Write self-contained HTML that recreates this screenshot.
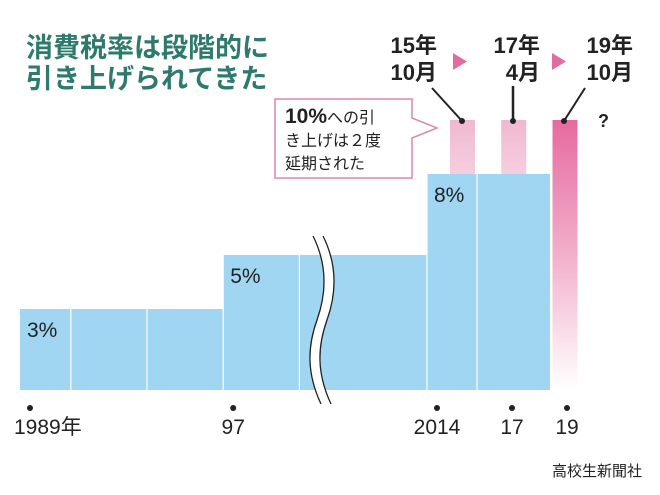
<!DOCTYPE html>
<html><head><meta charset="utf-8"><style>
body{margin:0;background:#fff;}
svg{display:block;font-family:"Liberation Sans","Noto Sans CJK JP",sans-serif;}
</style></head><body>
<svg width="660" height="495" viewBox="0 0 660 495">
<defs>
<linearGradient id="pk1" x1="0" y1="0" x2="0" y2="1"><stop offset="0" stop-color="#f0b8d0"/><stop offset="0.25" stop-color="#f6d3e2"/><stop offset="1" stop-color="#fbeef4"/></linearGradient>
<linearGradient id="pk2" x1="0" y1="0" x2="0" y2="1"><stop offset="0" stop-color="#e66aa0"/><stop offset="0.5" stop-color="#f2afca"/><stop offset="1" stop-color="#ffffff"/></linearGradient>
</defs>
<g fill="#2e7b6c" font-weight="bold" font-size="27">
<text x="26" y="57">消費税率は段階的に</text>
<text x="26" y="88">引き上げられてきた</text>
</g>
<g id="marks"></g>
<g>
<path d="M275,99 H412 V118 L437,128 L412,138 V178 H275 Z" fill="#fff" stroke="#d889ae" stroke-width="1.5"/>
<text x="285" y="123" font-size="21" font-weight="bold" fill="#222">10%<tspan font-size="16" font-weight="normal">への引</tspan></text>
<text x="285" y="146" font-size="16" fill="#222">き上げは２度</text>
<text x="285" y="169" font-size="16" fill="#222">延期された</text>
</g>
<g font-size="22" font-weight="bold" fill="#222">
<text x="437" y="53" text-anchor="end">15年</text><text x="437" y="80" text-anchor="end">10月</text>
<text x="540" y="53" text-anchor="end">17年</text><text x="540" y="80" text-anchor="end">4月</text>
<text x="633" y="53" text-anchor="end">19年</text><text x="633" y="80" text-anchor="end">10月</text>
<polygon points="453,53 467,61.5 453,70" fill="#e36c9f"/>
<polygon points="552,53 566,61.5 552,70" fill="#e36c9f"/>
<line x1="432" y1="88" x2="462" y2="121" stroke="#222" stroke-width="2"/>
<line x1="513" y1="86" x2="513" y2="121" stroke="#222" stroke-width="2.5"/>
<line x1="585" y1="88" x2="564" y2="121" stroke="#222" stroke-width="2"/>
<circle cx="462" cy="121" r="3" fill="#222"/><circle cx="513" cy="121" r="3" fill="#222"/><circle cx="564" cy="121" r="3" fill="#222"/>
<text x="598" y="127" font-size="18">?</text>
</g>
<text x="642" y="476" text-anchor="end" font-size="15" fill="#222">高校生新聞社</text>
</svg>
<script>
const stepYears=[1989,1997,2014];
const stepRates=[3,5,8];
const endYear=2019;
const dividerYears=[1991,1994,2000,2016];
const planYears=[2015.4,2017.45,2019.5];
const planRate=10;
const tickYears=[1989,1997,2014,2017,2019];
const tickLabels=["1989年","97","2014","17","19"];
const NS="http://www.w3.org/2000/svg";
const g=document.getElementById('marks');
function x(yr){return yr<=2001?20+(yr-1989)*25.4:427+(yr-2014)*25;}
function y(v){return 390-27*v;}
function mk(t,a){const e=document.createElementNS(NS,t);for(const k in a)e.setAttribute(k,a[k]);g.appendChild(e);return e;}
planYears.forEach((yr,i)=>{
  const r=mk('rect',{x:x(yr)-12,y:y(planRate),width:25,height:390-y(planRate),fill:i==2?'url(#pk2)':'url(#pk1)'});
  
  
});
stepYears.forEach((yr,i)=>{
  const x0=x(yr),x1=i<stepYears.length-1?x(stepYears[i+1]):x(endYear)-2;
  const r=mk('rect',{x:x0,y:y(stepRates[i]),width:x1-x0,height:390-y(stepRates[i]),fill:'#a0d6f2'});
  
  
  if(i>0){mk('line',{x1:x0,x2:x0,y1:y(stepRates[i]),y2:390,stroke:'#fff','stroke-width':1.2});}
  const t=mk('text',{x:x0+7,y:y(stepRates[i])+28,'font-size':21,fill:'#222'});
  t.textContent=stepRates[i]+'%';
  
  
});
dividerYears.forEach(yr=>{
  let top=0;stepYears.forEach((s,i)=>{if(yr>=s)top=stepRates[i];});
  mk('line',{x1:x(yr),x2:x(yr),y1:y(top),y2:390,stroke:'#fff','stroke-width':1.2});
});
const br=mk('path',{d:'M318,236 C332,264 332,292 322,320 C312,348 312,374 326,404',fill:'none',stroke:'#fff','stroke-width':9});


mk('path',{d:'M313,236 C327,264 327,292 317,320 C307,348 307,374 321,404',fill:'none',stroke:'#222','stroke-width':1.3});
mk('path',{d:'M323,236 C337,264 337,292 327,320 C317,348 317,374 331,404',fill:'none',stroke:'#222','stroke-width':1.3});
tickYears.forEach((yr,i)=>{
  const cx=i==4?x(yr)+15:x(yr)+10;
  const c=mk('circle',{cx:cx,cy:408,r:3,fill:'#222'});
  
  
  const t=mk('text',{x:i==0?x(yr)-6:cx,y:434,'font-size':21,'text-anchor':i==0?'start':'middle',fill:'#222'});
  t.textContent=tickLabels[i];
  
  
});
</script>
</body></html>
